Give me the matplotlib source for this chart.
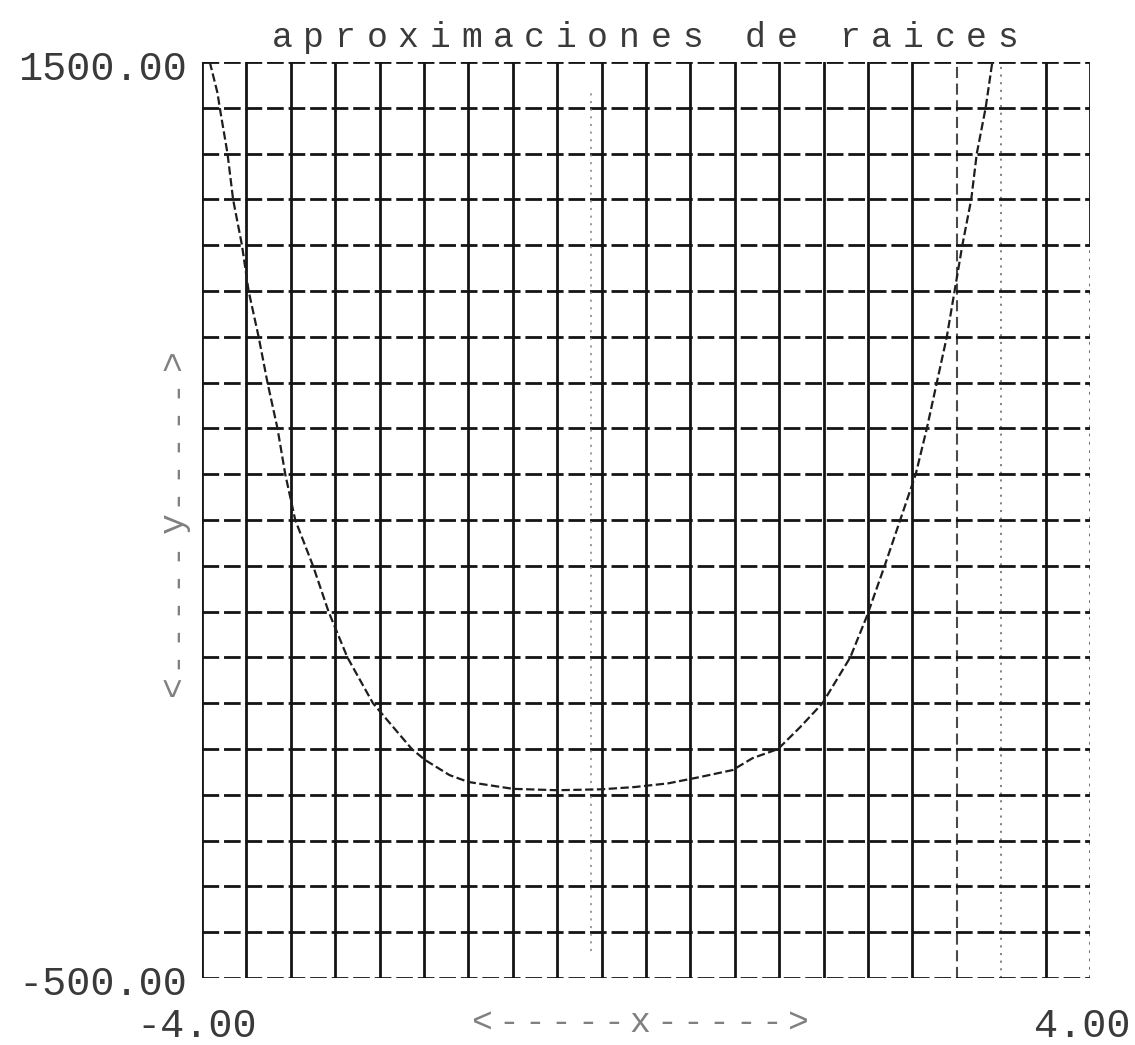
import matplotlib
matplotlib.use('Agg')
import matplotlib.pyplot as plt
import numpy as np

plt.rcParams['lines.scale_dashes'] = False

# ---------------- data ----------------
title = "aproximaciones de raices"
x_min, x_max = -4.0, 4.0
y_min, y_max = -500.0, 1500.0
x_grid_step = 0.4
y_grid_step = 100.0
x_tick_labels = ["-4.00", "4.00"]
y_tick_labels = ["-500.00", "1500.00"]
x_label = "<-----x----->"
y_label = "<-----y----->"
marker_line_x = -0.5

curve_x = [-3.93, -3.86, -3.84, -3.77, -3.72, -3.64, -3.58, -3.49, -3.41, -3.32,
           -3.25, -3.16, -3.00, -2.86, -2.69, -2.46, -2.11, -1.99, -1.77, -1.60,
           -1.20, -0.80, -0.40, -0.10, 0.20, 0.49, 0.78, 0.96, 1.19, 1.39,
           1.59, 1.84, 1.99, 2.15, 2.29, 2.43, 2.53, 2.62, 2.71, 2.78,
           2.85, 2.93, 2.98, 3.06, 3.12]
curve_y = [1500, 1432, 1400, 1300, 1200, 1100, 1000, 900, 800, 700,
           600, 500, 400, 300, 200, 100, 0, -24, -57, -72,
           -87, -90, -88, -83, -75, -61, -46, -20, 0, 48,
           100, 200, 290, 400, 500, 600, 700, 800, 900, 1000,
           1100, 1200, 1300, 1400, 1500]

# ---------------- layout ----------------
W, H = 1135, 1045
fig = plt.figure(figsize=(W / 100, H / 100), dpi=100)
fig.patch.set_facecolor('white')
L, R, T, B = 202, 1090, 62, 978
ax = fig.add_axes([L / W, 1 - B / H, (R - L) / W, (B - T) / H])
ax.set_xlim(x_min, x_max)
ax.set_ylim(y_min, y_max)
ax.axis('off')

ink = '#141414'
mono = ['Liberation Mono', 'DejaVu Sans Mono']
txt = '#3a3a3a'

# vertical grid lines
xs = np.round(np.arange(x_min, x_max + 1e-9, x_grid_step), 2)
for xv in xs:
    if abs(xv - 2.8) < 1e-6:
        ax.axvline(xv, color='#4a4a4a', lw=1.5, dashes=(8, 4))
    elif abs(xv - 3.2) < 1e-6:
        ax.axvline(xv, color='#777777', lw=1.3, dashes=(1.5, 4))
    elif abs(xv - x_max) < 1e-6:
        ax.axvline(xv, ymin=0.8, ymax=1.0, color=ink, lw=2.0)
        ax.axvline(xv, ymin=0.0, ymax=0.8, color='#666666', lw=1.3, dashes=(2, 4))
    else:
        ax.axvline(xv, color=ink, lw=2.0)

# horizontal grid lines (dashed)
ys = np.arange(y_min, y_max + 1e-9, y_grid_step)
for yv in ys:
    ax.axhline(yv, color=ink, lw=2.0, dashes=(12, 3.5))

# faint dotted marker line
ax.axvline(marker_line_x, ymin=0.03, ymax=0.97, color='#8a8a8a', lw=1.2, dashes=(1.5, 4))

# curve
ax.plot(curve_x, curve_y, color='#1e1e1e', lw=1.6, dashes=(6, 2.5), solid_capstyle='butt')

# ---------------- texts ----------------
def fx(px):
    return px / W

def fy(py):
    return 1 - py / H

# title, fixed pitch plotter lettering
t0, t1 = 282, 1008
pitch = (t1 - t0) / (len(title) - 1)
for i, ch in enumerate(title):
    fig.text(fx(t0 + i * pitch), fy(47), ch, ha='center', va='baseline',
             fontsize=25, family=mono, color=txt)

# y tick labels
fig.text(fx(187), fy(80), y_tick_labels[1], ha='right', va='baseline',
         fontsize=29, family=mono, color=txt)
fig.text(fx(187), fy(995), y_tick_labels[0], ha='right', va='baseline',
         fontsize=29, family=mono, color=txt)
# x tick labels
fig.text(fx(197), fy(1037), x_tick_labels[0], ha='center', va='baseline',
         fontsize=29, family=mono, color=txt)
fig.text(fx(1082), fy(1037), x_tick_labels[1], ha='center', va='baseline',
         fontsize=29, family=mono, color=txt)

# x axis label
xl0, xl1 = 482, 798
p = (xl1 - xl0) / (len(x_label) - 1)
for i, ch in enumerate(x_label):
    fig.text(fx(xl0 + i * p), fy(1032), ch, ha='center', va='baseline',
             fontsize=25, family=mono, color='#808080')

# y axis label (rotated, reading bottom to top)
yl0, yl1 = 686, 360
p = (yl0 - yl1) / (len(y_label) - 1)
for i, ch in enumerate(y_label):
    fig.text(fx(183), fy(yl0 - i * p), ch, ha='center', va='baseline',
             rotation=90, rotation_mode='anchor',
             fontsize=25, family=mono, color='#808080')

fig.savefig('out.png', dpi=100, facecolor='white')
